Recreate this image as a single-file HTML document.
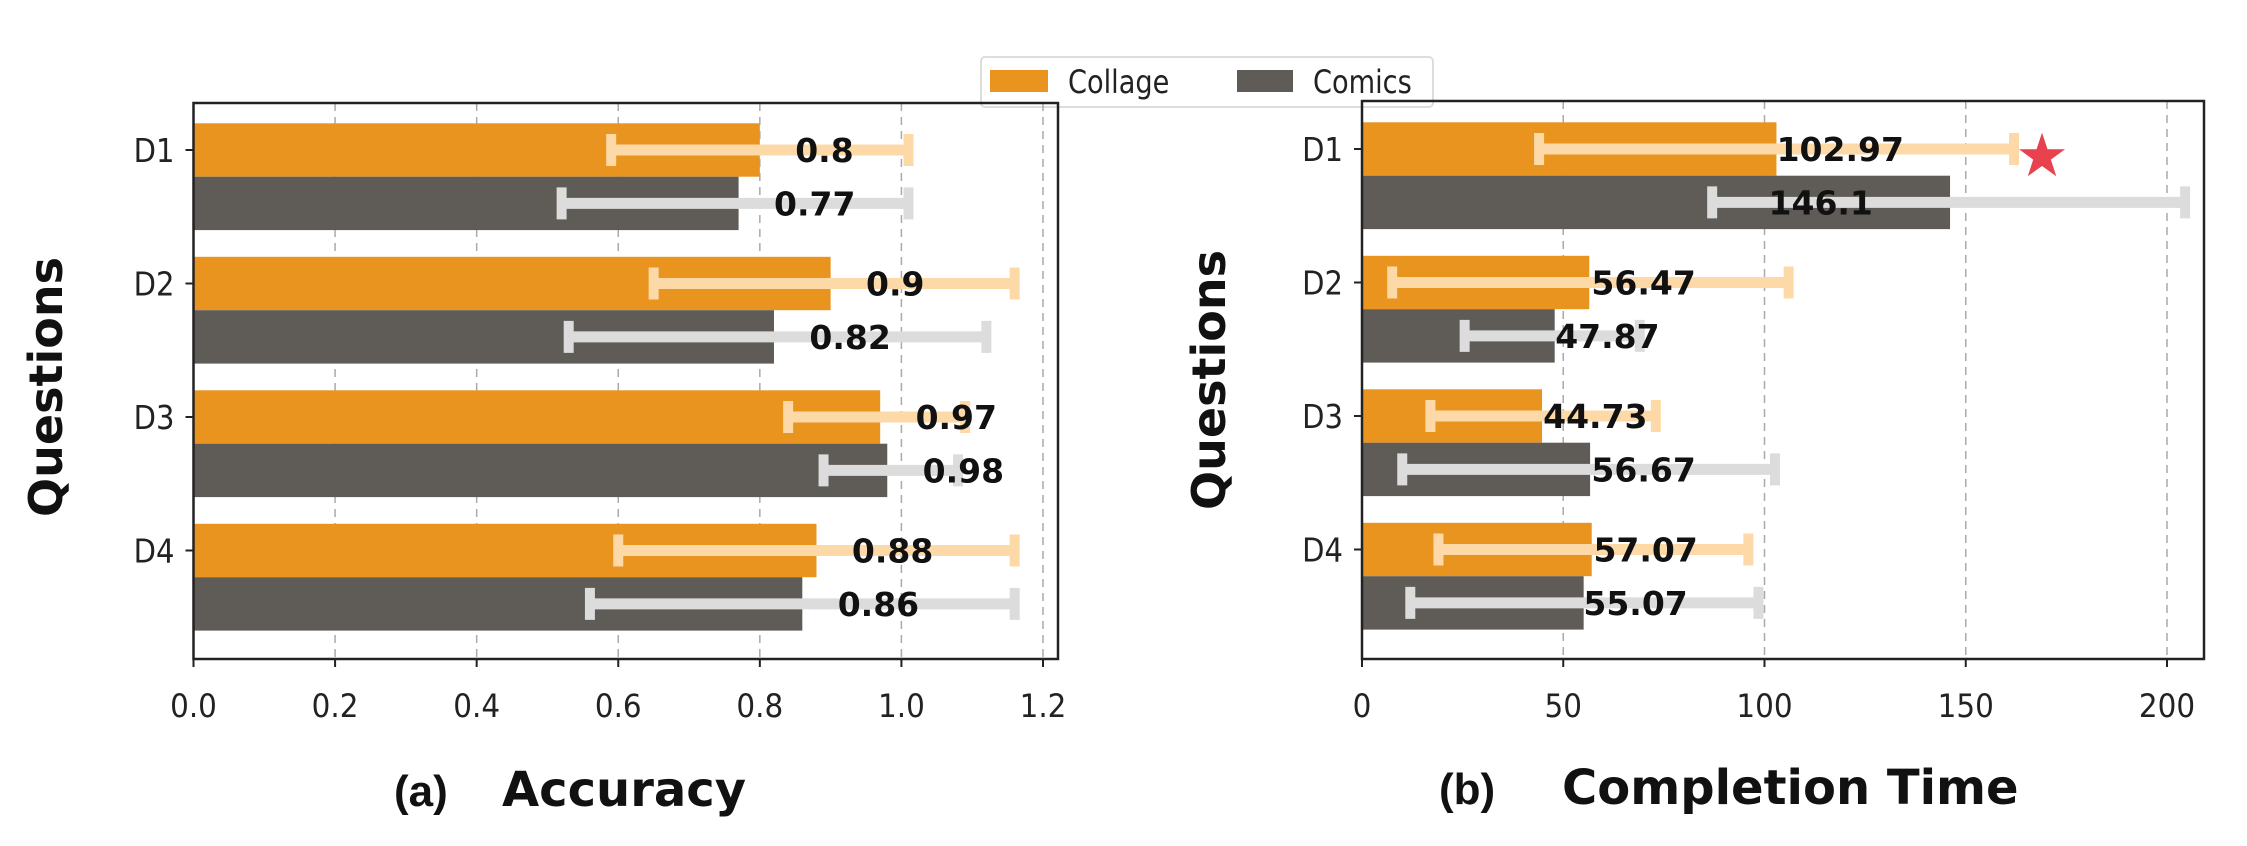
<!DOCTYPE html>
<html><head><meta charset="utf-8"><style>
html,body{margin:0;padding:0;background:#fff;}
svg{display:block;}
</style></head><body>
<svg id="fig" width="2247" height="846" xmlns="http://www.w3.org/2000/svg">
<g>
<rect x="981" y="57" width="452" height="50" rx="4" fill="#fff" stroke="#ddd" stroke-width="2"/>
<rect x="990" y="70" width="58" height="22" fill="#e8941f"/>
<text x="1068" y="93" font-family="DejaVu Sans, sans-serif" font-size="32" fill="#222" transform="translate(1068,0) scale(0.85,1) translate(-1068,0)">Collage</text>
<rect x="1237" y="70" width="56" height="22" fill="#5f5b56"/>
<text x="1313" y="93" font-family="DejaVu Sans, sans-serif" font-size="32" fill="#222" transform="translate(1313,0) scale(0.85,1) translate(-1313,0)">Comics</text>
</g>
<g id="chartA"></g>
<g id="chartB"></g>
<text x="394" y="806" font-family="Liberation Sans, sans-serif" font-weight="bold" font-size="44" fill="#111">(a)</text>
<text x="502" y="806" font-family="DejaVu Sans, sans-serif" font-weight="bold" font-size="48" fill="#111">Accuracy</text>
<text x="1439" y="804" font-family="Liberation Sans, sans-serif" font-weight="bold" font-size="44" fill="#111">(b)</text>
<text x="1562" y="804" font-family="DejaVu Sans, sans-serif" font-weight="bold" font-size="48" fill="#111">Completion Time</text>
</svg>
<script>
const categories = ["D1","D2","D3","D4"];
const accCollage = [0.8, 0.9, 0.97, 0.88];
const accComics = [0.77, 0.82, 0.98, 0.86];
const accCollageLo = [0.59, 0.65, 0.84, 0.60];
const accCollageHi = [1.01, 1.16, 1.09, 1.16];
const accComicsLo = [0.52, 0.53, 0.89, 0.56];
const accComicsHi = [1.01, 1.12, 1.08, 1.16];
const accTicks = ["0.0","0.2","0.4","0.6","0.8","1.0","1.2"];
const timeCollage = [102.97, 56.47, 44.73, 57.07];
const timeComics = [146.1, 47.87, 56.67, 55.07];
const timeCollageLo = [44, 7.5, 17, 19];
const timeCollageHi = [162, 106, 73, 96];
const timeComicsLo = [87, 25.5, 10, 12];
const timeComicsHi = [204.5, 69, 102.6, 98.5];
const timeTicks = ["0","50","100","150","200"];
const timeLabelAt = [103, 57, 45, 57.5, 101, 48, 57, 55];

const NS = "http://www.w3.org/2000/svg";
function mk(parent, tag, attrs){const e=document.createElementNS(NS,tag);for(const k in attrs)e.setAttribute(k,attrs[k]);parent.appendChild(e);return e;}

function drawChart(g, o){
  const xs = v => o.x0 + v*o.kx;
  const yc = i => o.y0 + i*o.step;
  const bh = o.step*0.4;
  o.ticks.forEach(t=>{
    const v=parseFloat(t); if(v===0) return;
    const gl=mk(g,"line",{x1:xs(v),x2:xs(v),y1:o.top,y2:o.bottom,stroke:"#aaa","stroke-width":1.5,"stroke-dasharray":"8,6"});
    
    
  });
  const series=[
    {vals:o.a,lo:o.aLo,hi:o.aHi,col:"#e8941f",err:"#fdd9a8",off:0,name:"collage"},
    {vals:o.b,lo:o.bLo,hi:o.bHi,col:"#5f5b56",err:"#dcdcdc",off:bh,name:"comics"}];
  series.forEach((s,si)=>{
    s.vals.forEach((v,i)=>{
      const cy=yc(i)+s.off;
      const r=mk(g,"rect",{x:xs(0),y:cy-bh/2,width:xs(v)-xs(0),height:bh,fill:s.col});
      
      
    });
  });
  series.forEach((s,si)=>{
    s.vals.forEach((v,i)=>{
      const cy=yc(i)+s.off;
      const eg=mk(g,"g",{});
      
      
      mk(eg,"line",{x1:xs(s.lo[i]),x2:xs(s.hi[i]),y1:cy,y2:cy,stroke:s.err,"stroke-width":11});
      mk(eg,"line",{x1:xs(s.lo[i]),x2:xs(s.lo[i]),y1:cy-16,y2:cy+16,stroke:s.err,"stroke-width":10});
      mk(eg,"line",{x1:xs(s.hi[i]),x2:xs(s.hi[i]),y1:cy-16,y2:cy+16,stroke:s.err,"stroke-width":10});
    });
  });
  series.forEach((s,si)=>{
    s.vals.forEach((v,i)=>{
      const cy=yc(i)+s.off;
      const lx = o.labelAt ? xs(o.labelAt[si*4+i]) : xs(v+o.lblOff);
      const t=mk(g,"text",{x:lx,y:cy+12,"font-family":"DejaVu Sans, sans-serif","font-weight":"bold","font-size":33,fill:"#111"});
      t.textContent=String(v);
      
      
    });
  });
  const fr=mk(g,"rect",{x:o.left,y:o.top,width:o.right-o.left,height:o.bottom-o.top,fill:"none",stroke:"#222","stroke-width":2.5});
  
  
  o.ticks.forEach(t=>{
    const v=parseFloat(t);
    mk(g,"line",{x1:xs(v),x2:xs(v),y1:o.bottom,y2:o.bottom+8,stroke:"#222","stroke-width":2});
    const tx=mk(g,"text",{x:0,y:0,"text-anchor":"middle","font-family":"DejaVu Sans, sans-serif","font-size":32,fill:"#222",transform:`translate(${xs(v)},${o.bottom+58}) scale(0.92,1)`});
    tx.textContent=t;
    
    
  });
  categories.forEach((c,i)=>{
    mk(g,"line",{x1:o.left-8,x2:o.left,y1:yc(i),y2:yc(i),stroke:"#222","stroke-width":2});
    const ty=mk(g,"text",{x:0,y:0,"text-anchor":"end","font-family":"DejaVu Sans, sans-serif","font-size":33,fill:"#222",transform:`translate(${o.left-19},${yc(i)+12}) scale(0.88,1)`});
    ty.textContent=c;
    
    
  });
  const yt=mk(g,"text",{x:0,y:0,"text-anchor":"middle","font-family":"DejaVu Sans, sans-serif","font-weight":"bold","font-size":46,fill:"#111",transform:`translate(${o.ylx},${o.yly}) rotate(-90)`});
  yt.textContent="Questions";
  
  
}

drawChart(document.getElementById("chartA"),{
  x0:193.5,kx:(1043-193.5)/1.2,y0:150,step:133.5,left:193.5,right:1058,top:103,bottom:659,
  ticks:accTicks,a:accCollage,b:accComics,aLo:accCollageLo,aHi:accCollageHi,bLo:accComicsLo,bHi:accComicsHi,
  lblOff:0.05,ylx:62,yly:387});
drawChart(document.getElementById("chartB"),{
  x0:1362,kx:(2167-1362)/200,y0:149,step:133.5,left:1362,right:2204,top:101,bottom:659,
  ticks:timeTicks,a:timeCollage,b:timeComics,aLo:timeCollageLo,aHi:timeCollageHi,bLo:timeComicsLo,bHi:timeComicsHi,
  labelAt:timeLabelAt,ylx:1225,yly:380});

const star=mk(document.getElementById("chartB"),"text",{x:2042,y:176,"text-anchor":"middle","font-family":"DejaVu Sans, sans-serif","font-size":60,fill:"#e8424f"});
star.textContent="★";


</script>
</body></html>
